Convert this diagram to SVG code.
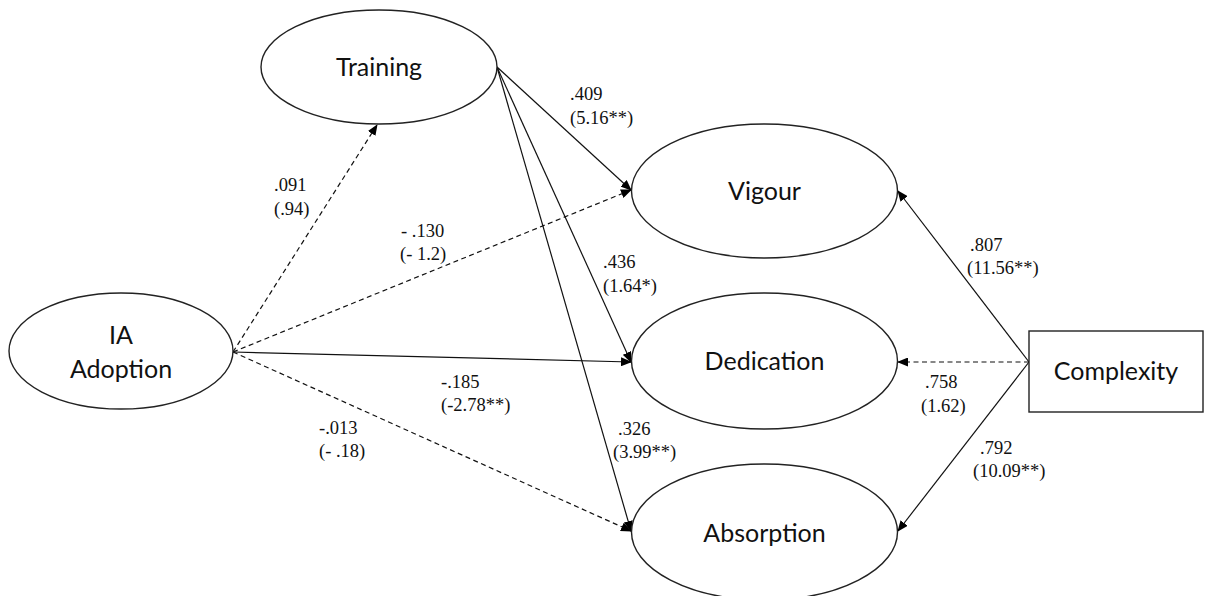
<svg xmlns="http://www.w3.org/2000/svg" width="1205" height="596" viewBox="0 0 1205 596">
<defs>
<marker id="ah" markerWidth="11" markerHeight="9" refX="10" refY="4.5" orient="auto" markerUnits="userSpaceOnUse">
<path d="M0,0 L11,4.5 L0,9 Z" fill="#000"/>
</marker>
<style>
.node{fill:#fff;stroke:#222;stroke-width:1.4}
.nt{font-family:Lato,"Open Sans",sans-serif;font-size:25px;fill:#111;text-anchor:middle}
.lb{font-family:"Liberation Serif","Times New Roman",serif;font-size:18.5px;fill:#111}
.c{fill:none;stroke:#111;stroke-width:1.2}
.d{stroke-dasharray:5 3.5}
</style>
</defs>
<rect width="1205" height="596" fill="#fff"/>
<g id="connectors">
<line class="c d" x1="233" y1="352" x2="377" y2="125" marker-end="url(#ah)"/>
<line class="c d" x1="233" y1="352" x2="631" y2="190" marker-end="url(#ah)"/>
<line class="c" x1="233" y1="352" x2="631" y2="362" marker-end="url(#ah)"/>
<line class="c d" x1="233" y1="352" x2="631" y2="531" marker-end="url(#ah)"/>
<line class="c" x1="497" y1="67" x2="631" y2="190" marker-end="url(#ah)"/>
<line class="c" x1="497" y1="67" x2="631" y2="362" marker-end="url(#ah)"/>
<line class="c" x1="497" y1="67" x2="631" y2="531" marker-end="url(#ah)"/>
<line class="c" x1="1029" y1="362" x2="898" y2="191" marker-end="url(#ah)"/>
<line class="c d" x1="1029" y1="362" x2="898" y2="362" marker-end="url(#ah)"/>
<line class="c" x1="1029" y1="362" x2="898" y2="531" marker-end="url(#ah)"/>
</g>
<g id="labels">
<text class="lb" x="570" y="100">.409</text><text class="lb" x="570" y="124">(5.16**)</text>
<text class="lb" x="274" y="191">.091</text><text class="lb" x="274" y="215">(.94)</text>
<text class="lb" x="401" y="237">- .130</text><text class="lb" x="400" y="260">(- 1.2)</text>
<text class="lb" x="603" y="268">.436</text><text class="lb" x="603" y="292">(1.64*)</text>
<text class="lb" x="441" y="388">-.185</text><text class="lb" x="441" y="411">(-2.78**)</text>
<text class="lb" x="319" y="434">-.013</text><text class="lb" x="319" y="457">(- .18)</text>
<text class="lb" x="618" y="435">.326</text><text class="lb" x="613" y="458">(3.99**)</text>
<text class="lb" x="970" y="251">.807</text><text class="lb" x="967" y="274">(11.56**)</text>
<text class="lb" x="925" y="388">.758</text><text class="lb" x="921" y="412">(1.62)</text>
<text class="lb" x="980" y="454">.792</text><text class="lb" x="973" y="477">(10.09**)</text>
</g>
<g id="training"><ellipse class="node" cx="379" cy="67" rx="118" ry="57"/><text class="nt" x="379" y="76">Training</text></g>
<g id="ia-adoption"><ellipse class="node" cx="121" cy="351" rx="112" ry="58"/><text class="nt" x="121" y="344">IA</text><text class="nt" x="121" y="378">Adoption</text></g>
<g id="vigour"><ellipse class="node" cx="764.5" cy="191" rx="133" ry="67"/><text class="nt" x="764.5" y="200">Vigour</text></g>
<g id="dedication"><ellipse class="node" cx="764.5" cy="361" rx="133" ry="68"/><text class="nt" x="764.5" y="370">Dedication</text></g>
<g id="absorption"><ellipse class="node" cx="764.5" cy="532" rx="133" ry="68"/><text class="nt" x="764.5" y="542">Absorption</text></g>
<g id="complexity"><rect class="node" x="1029" y="331" width="174" height="81"/><text class="nt" x="1116" y="380">Complexity</text></g>
</svg>
